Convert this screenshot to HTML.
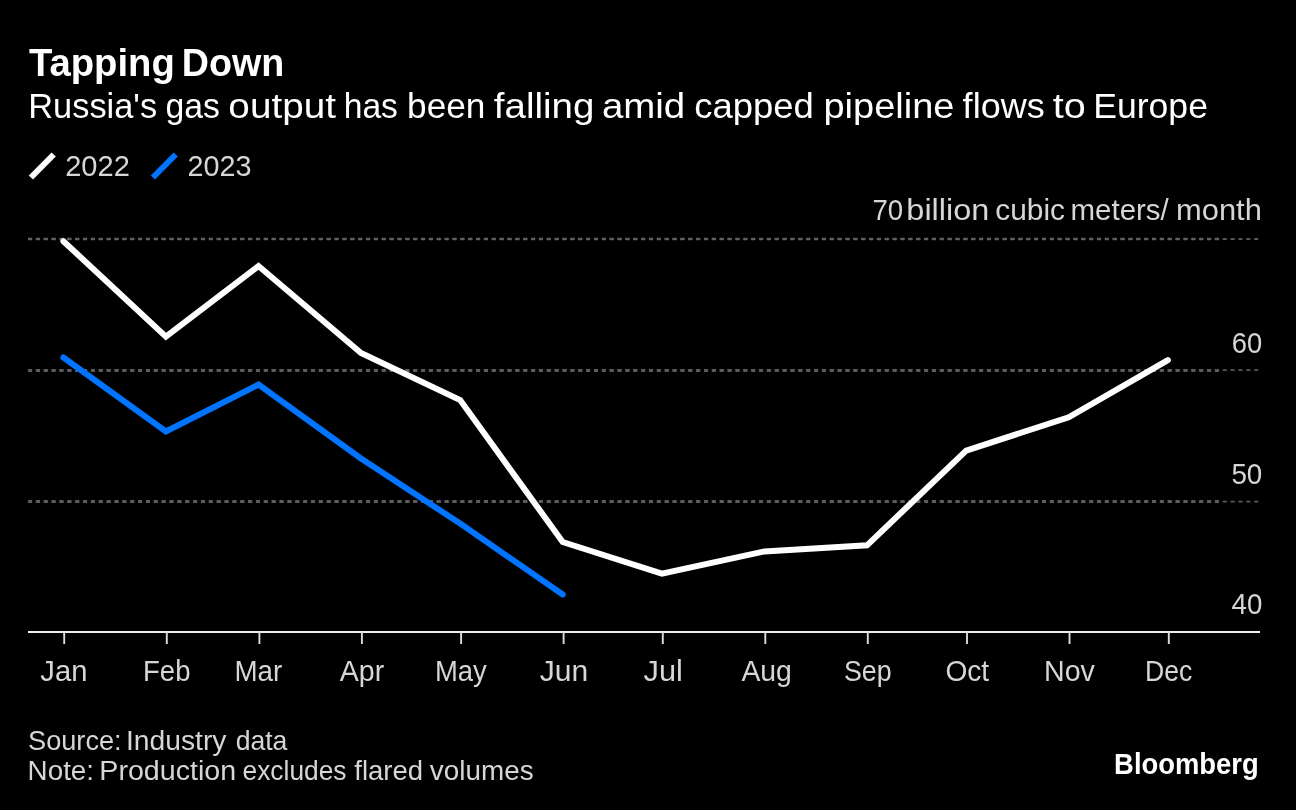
<!DOCTYPE html>
<html lang="en"><head><meta charset="utf-8"><title>Tapping Down</title>
<style>
html,body{margin:0;padding:0;background:#000;}
svg{display:block}
text{font-family:"Liberation Sans", sans-serif;}
</style></head><body>
<svg width="1296" height="810" viewBox="0 0 1296 810">
<rect width="1296" height="810" fill="#000"/>
<line x1="28" x2="1260" y1="239.0" y2="239.0" stroke="#585858" stroke-width="1.9" stroke-dasharray="4.1 3.76"/>
<line x1="28" x2="1221" y1="238.95" y2="238.95" stroke="#606060" stroke-width="2.5" stroke-dasharray="4.1 3.76"/>
<line x1="28" x2="1260" y1="370.1" y2="370.1" stroke="#585858" stroke-width="1.9" stroke-dasharray="4.1 3.76"/>
<line x1="28" x2="1221" y1="370.45" y2="370.45" stroke="#5c5c5c" stroke-width="2.9" stroke-dasharray="4.1 3.76"/>
<line x1="28" x2="1260" y1="501.6" y2="501.6" stroke="#585858" stroke-width="1.9" stroke-dasharray="4.1 3.76"/>
<line x1="28" x2="1221" y1="501.5" y2="501.5" stroke="#5c5c5c" stroke-width="2.9" stroke-dasharray="4.1 3.76"/>
<line x1="28" x2="1260" y1="632" y2="632" stroke="#eee" stroke-width="2"/>
<line x1="64.2" x2="64.2" y1="632" y2="644" stroke="#dcdcdc" stroke-width="1.9"/>
<line x1="166.8" x2="166.8" y1="632" y2="644" stroke="#dcdcdc" stroke-width="1.9"/>
<line x1="259.4" x2="259.4" y1="632" y2="644" stroke="#dcdcdc" stroke-width="1.9"/>
<line x1="361.9" x2="361.9" y1="632" y2="644" stroke="#dcdcdc" stroke-width="1.9"/>
<line x1="461.1" x2="461.1" y1="632" y2="644" stroke="#dcdcdc" stroke-width="1.9"/>
<line x1="563.6" x2="563.6" y1="632" y2="644" stroke="#dcdcdc" stroke-width="1.9"/>
<line x1="662.8" x2="662.8" y1="632" y2="644" stroke="#dcdcdc" stroke-width="1.9"/>
<line x1="765.3" x2="765.3" y1="632" y2="644" stroke="#dcdcdc" stroke-width="1.9"/>
<line x1="867.8" x2="867.8" y1="632" y2="644" stroke="#dcdcdc" stroke-width="1.9"/>
<line x1="967.0" x2="967.0" y1="632" y2="644" stroke="#dcdcdc" stroke-width="1.9"/>
<line x1="1069.5" x2="1069.5" y1="632" y2="644" stroke="#dcdcdc" stroke-width="1.9"/>
<line x1="1168.8" x2="1168.8" y1="632" y2="644" stroke="#dcdcdc" stroke-width="1.9"/>
<polyline points="63.4,241.2 165.9,336.6 258.5,266.0 361.0,353.0 460.2,400.1 562.7,542.0 661.9,573.6 764.5,551.4 867.0,545.3 966.2,450.6 1068.7,417.3 1167.9,360.1" fill="none" stroke="#fff" stroke-width="6" stroke-linecap="round" stroke-linejoin="miter"/>
<polyline points="63.4,357.5 165.9,431.4 258.5,384.6 361.0,458.5 460.2,523.6 562.7,594.5" fill="none" stroke="#0073ff" stroke-width="6" stroke-linecap="round" stroke-linejoin="miter"/>
<line x1="30.9" y1="177.5" x2="53.7" y2="154.5" stroke="#fff" stroke-width="6"/>
<line x1="152.9" y1="177.5" x2="175.7" y2="154.5" stroke="#0073ff" stroke-width="6"/>
<text y="76.0" font-size="38.3" font-weight="700" fill="#fff"><tspan x="28.91" textLength="145.87" lengthAdjust="spacingAndGlyphs">Tapping</tspan> <tspan x="181.71" textLength="102.53" lengthAdjust="spacingAndGlyphs">Down</tspan></text>
<text y="117.7" font-size="35" fill="#fff"><tspan x="28.26" textLength="128.84" lengthAdjust="spacingAndGlyphs">Russia&#39;s</tspan> <tspan x="165.51" textLength="54.46" lengthAdjust="spacingAndGlyphs">gas</tspan> <tspan x="228.39" textLength="107.55" lengthAdjust="spacingAndGlyphs">output</tspan> <tspan x="343.70" textLength="54.21" lengthAdjust="spacingAndGlyphs">has</tspan> <tspan x="407.13" textLength="78.30" lengthAdjust="spacingAndGlyphs">been</tspan> <tspan x="493.81" textLength="100.51" lengthAdjust="spacingAndGlyphs">falling</tspan> <tspan x="601.98" textLength="83.27" lengthAdjust="spacingAndGlyphs">amid</tspan> <tspan x="694.16" textLength="119.61" lengthAdjust="spacingAndGlyphs">capped</tspan> <tspan x="823.53" textLength="130.85" lengthAdjust="spacingAndGlyphs">pipeline</tspan> <tspan x="962.64" textLength="82.08" lengthAdjust="spacingAndGlyphs">flows</tspan> <tspan x="1052.70" textLength="33.06" lengthAdjust="spacingAndGlyphs">to</tspan> <tspan x="1093.21" textLength="114.75" lengthAdjust="spacingAndGlyphs">Europe</tspan></text>
<text y="175.9" font-size="29.1" fill="#d6d6d6"><tspan x="65.20" textLength="64.60" lengthAdjust="spacingAndGlyphs">2022</tspan> <tspan x="187.52" textLength="64.06" lengthAdjust="spacingAndGlyphs">2023</tspan></text>
<text y="219.9" font-size="29.1" fill="#d6d6d6"><tspan x="872.51" textLength="30.70" lengthAdjust="spacingAndGlyphs">70</tspan></text>
<text y="219.9" font-size="29.3" fill="#d6d6d6"><tspan x="906.33" textLength="83.04" lengthAdjust="spacingAndGlyphs">billion</tspan> <tspan x="995.29" textLength="69.80" lengthAdjust="spacingAndGlyphs">cubic</tspan> <tspan x="1070.48" textLength="98.34" lengthAdjust="spacingAndGlyphs">meters/</tspan> <tspan x="1175.97" textLength="85.91" lengthAdjust="spacingAndGlyphs">month</tspan></text>
<text y="352.8" font-size="29.1" fill="#d6d6d6"><tspan x="1231.74" textLength="30.44" lengthAdjust="spacingAndGlyphs">60</tspan></text>
<text y="483.8" font-size="29.1" fill="#d6d6d6"><tspan x="1231.38" textLength="30.90" lengthAdjust="spacingAndGlyphs">50</tspan></text>
<text y="614.1" font-size="29.1" fill="#d6d6d6"><tspan x="1231.52" textLength="30.79" lengthAdjust="spacingAndGlyphs">40</tspan></text>
<text y="680.7" font-size="29.3" fill="#d6d6d6"><tspan x="40.34" textLength="47.08" lengthAdjust="spacingAndGlyphs">Jan</tspan></text>
<text y="680.7" font-size="29.3" fill="#d6d6d6"><tspan x="143.07" textLength="47.37" lengthAdjust="spacingAndGlyphs">Feb</tspan></text>
<text y="680.7" font-size="29.3" fill="#d6d6d6"><tspan x="234.47" textLength="47.81" lengthAdjust="spacingAndGlyphs">Mar</tspan></text>
<text y="680.7" font-size="29.3" fill="#d6d6d6"><tspan x="339.70" textLength="44.49" lengthAdjust="spacingAndGlyphs">Apr</tspan></text>
<text y="680.7" font-size="29.3" fill="#d6d6d6"><tspan x="435.06" textLength="51.77" lengthAdjust="spacingAndGlyphs">May</tspan></text>
<text y="680.7" font-size="29.3" fill="#d6d6d6"><tspan x="539.69" textLength="48.49" lengthAdjust="spacingAndGlyphs">Jun</tspan></text>
<text y="680.7" font-size="29.3" fill="#d6d6d6"><tspan x="643.64" textLength="39.31" lengthAdjust="spacingAndGlyphs">Jul</tspan></text>
<text y="680.7" font-size="29.3" fill="#d6d6d6"><tspan x="741.39" textLength="50.53" lengthAdjust="spacingAndGlyphs">Aug</tspan></text>
<text y="680.7" font-size="29.3" fill="#d6d6d6"><tspan x="843.89" textLength="47.68" lengthAdjust="spacingAndGlyphs">Sep</tspan></text>
<text y="680.7" font-size="29.3" fill="#d6d6d6"><tspan x="945.40" textLength="43.71" lengthAdjust="spacingAndGlyphs">Oct</tspan></text>
<text y="680.7" font-size="29.3" fill="#d6d6d6"><tspan x="1044.00" textLength="50.96" lengthAdjust="spacingAndGlyphs">Nov</tspan></text>
<text y="680.7" font-size="29.3" fill="#d6d6d6"><tspan x="1145.00" textLength="47.29" lengthAdjust="spacingAndGlyphs">Dec</tspan></text>
<text y="749.8" font-size="27.3" fill="#d6d6d6"><tspan x="28.00" textLength="93.66" lengthAdjust="spacingAndGlyphs">Source:</tspan> <tspan x="125.95" textLength="100.55" lengthAdjust="spacingAndGlyphs">Industry</tspan> <tspan x="235.64" textLength="51.77" lengthAdjust="spacingAndGlyphs">data</tspan></text>
<text y="779.9" font-size="27.3" fill="#d6d6d6"><tspan x="27.60" textLength="66.45" lengthAdjust="spacingAndGlyphs">Note:</tspan> <tspan x="99.30" textLength="136.81" lengthAdjust="spacingAndGlyphs">Production</tspan> <tspan x="242.52" textLength="104.05" lengthAdjust="spacingAndGlyphs">excludes</tspan> <tspan x="354.28" textLength="68.84" lengthAdjust="spacingAndGlyphs">flared</tspan> <tspan x="429.88" textLength="103.74" lengthAdjust="spacingAndGlyphs">volumes</tspan></text>
<text y="773.5" font-size="29.4" font-weight="700" fill="#fff"><tspan x="1114.10" textLength="144.58" lengthAdjust="spacingAndGlyphs">Bloomberg</tspan></text>
</svg>
</body></html>
